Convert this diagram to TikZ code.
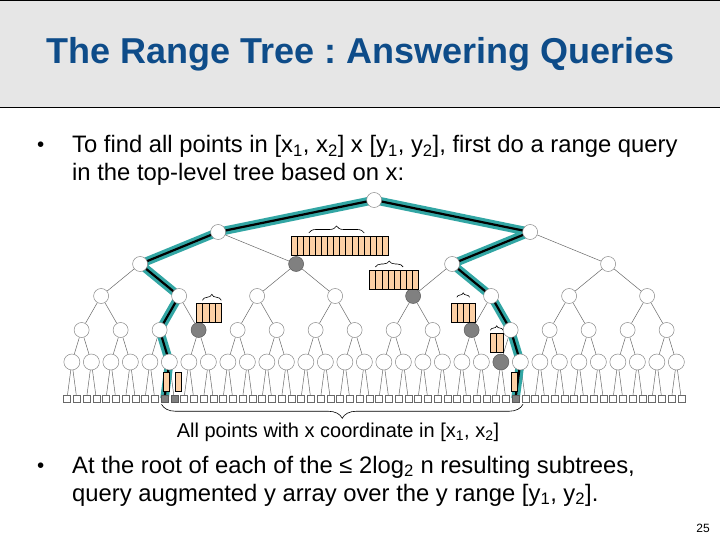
\documentclass[tikz,border=0pt]{standalone}
\usepackage{fontspec}
\setmainfont{Liberation Sans}
\usetikzlibrary{backgrounds,decorations.pathreplacing}
\definecolor{TitleBlue}{RGB}{14,76,137}
\definecolor{TitleGray}{RGB}{230,230,230}
\definecolor{ArrOrange}{RGB}{252,208,165}
\definecolor{NodeGray}{RGB}{128,128,128}
\definecolor{PathTeal}{RGB}{50,166,164}
\definecolor{EdgeGray}{RGB}{105,105,105}
\frenchspacing

% one augmented y array: name, left x, top y, number of cells
\newcommand{\yarray}[4]{%
  \foreach \c in {1,...,#4}
    \node[cell] (#1-\c) at ({#2+6.1*(\c-1)},#3) {};
}

\tikzset{
  sel-2-1/.style={hit}, sel-3-4/.style={hit}, sel-4-3/.style={hit},
  sel-4-10/.style={hit}, sel-5-22/.style={hit},
  sel-l-10/.style={hit}, sel-l-11/.style={hit}, sel-l-46/.style={hit},
}

\begin{document}
\begin{tikzpicture}[x=1pt,y=-1pt,
  titlebar/.style={draw=black,fill=TitleGray,line width=0.8pt,
                   minimum width=722pt,minimum height=107pt,inner sep=0pt,
                   font=\fontsize{36}{40}\selectfont\bfseries,text=TitleBlue},
  body/.style={font=\fontsize{23.8}{28}\selectfont,anchor=base west,inner sep=0pt},
  dot/.style={font=\fontsize{20.5}{24}\selectfont,anchor=base west,inner sep=0pt},
  tnode/.style={circle,draw=EdgeGray!80,fill=white,line width=0.5pt,
                inner sep=0pt},
  leaf/.style={rectangle,draw=EdgeGray,fill=white,line width=0.5pt,
               minimum size=7pt,inner sep=0pt},
  hit/.style={fill=NodeGray,draw=black!65},
  cell/.style={rectangle,draw=black,fill=ArrOrange,line width=0.6pt,
               anchor=north west,minimum width=6.1pt,minimum height=18.5pt,
               inner sep=0pt},
  tedge/.style={EdgeGray,line width=0.5pt},
  qpath/.style={black,line width=2.2pt,line join=round,
                preaction={draw,PathTeal,line width=8.5pt,line join=round}},
  ybrace/.style={decorate,decoration={brace,amplitude=6pt,raise=3pt},
                 line width=0.6pt},
]
\useasboundingbox (0,0) rectangle (720,540);
\begin{scope}[on background layer]
\fill[white] (0,0) rectangle (720,540);
\end{scope}

\node[titlebar] (title) at (360.5,54.3) {The Range Tree : Answering Queries};

\node[dot] (dot1) at (37,152) {•};
\node[body] (q1a) at (72,153) {To find all points in [x\textsubscript{1}, x\textsubscript{2}] x [y\textsubscript{1}, y\textsubscript{2}], first do a range query};
\node[body] (q1b) at (72,181) {in the top-level tree based on x:};

% tree nodes, level by level
\foreach \d/\y/\s in {0/200/15,1/232/15,2/264/15,3/296/15,4/330/15,5/362/16} {
  \pgfmathtruncatemacro{\last}{2^\d-1}
  \pgfmathtruncatemacro{\w}{2^(6-\d)}
  \foreach \k in {0,...,\last}
    \node[tnode,minimum size=\s pt,sel-\d-\k/.try] (n-\d-\k)
      at ({67+9.75*(\w*\k+(\w-1)/2)},\y) {};
}
\foreach \i in {0,...,63}
  \node[leaf,sel-l-\i/.try] (l-\i) at ({67+9.75*\i},398.5) {};

\begin{scope}[on background layer]
\foreach \d in {0,...,4} {
  \pgfmathtruncatemacro{\last}{2^\d-1}
  \pgfmathtruncatemacro{\nd}{\d+1}
  \foreach \k in {0,...,\last} {
    \pgfmathtruncatemacro{\lc}{2*\k}
    \pgfmathtruncatemacro{\rc}{2*\k+1}
    \draw[tedge] (n-\d-\k) -- (n-\nd-\lc) (n-\d-\k) -- (n-\nd-\rc);
  }
}
\foreach \j in {0,...,31} {
  \pgfmathtruncatemacro{\lc}{2*\j}
  \pgfmathtruncatemacro{\rc}{2*\j+1}
  \draw[tedge] (n-5-\j) -- (l-\lc) (n-5-\j) -- (l-\rc);
}
\draw[qpath] (n-0-0.center) -- (n-1-0.center) -- (n-2-0.center) -- (n-3-1.center)
  -- (n-4-2.center) -- (n-5-5.center) -- (l-10.center);
\draw[qpath] (n-0-0.center) -- (n-1-1.center) -- (n-2-2.center) -- (n-3-5.center)
  -- (n-4-11.center) -- (n-5-23.center) -- (l-46.center);
\end{scope}

\yarray{a16}{290.5}{236}{16}
\yarray{a8}{369.3}{270}{8}
\yarray{a4l}{196.3}{303.3}{4}
\yarray{a4r}{450.7}{303.3}{4}
\yarray{a2}{490.3}{333.3}{2}
\yarray{a1l}{162.7}{372}{1}
\yarray{a1m}{175}{372}{1}
\yarray{a1r}{510.7}{372}{1}

\draw[ybrace,decoration={amplitude=7pt}] (a16-4.north west) -- (a16-12.north east);
\draw[ybrace] (a8-2.north west) -- (a8-6.north);
\draw[ybrace] (a4l-2.north west) -- (a4l-4.north east);
\draw[ybrace,decoration={amplitude=4.5pt,raise=6pt}] (a4r-2.north west) -- (a4r-3.north east);
\draw[ybrace,decoration={amplitude=4.5pt}] (a2-1.north west) -- (a2-2.north east);

\draw[ybrace,decoration={amplitude=14pt,raise=2pt}] ([xshift=7.5pt]l-46.south) -- ([xshift=-3pt]l-10.south);
\node[font=\fontsize{20}{24}\selectfont] (allpts) at (338,432) {All points with x coordinate in [x\textsubscript{1}, x\textsubscript{2}]};

\node[dot] (dot2) at (37,472) {•};
\node[body] (q2a) at (72,473) {At the root of each of the ≤ 2log\textsubscript{2} n resulting subtrees,};
\node[body] (q2b) at (72,501) {query augmented y array over the y range [y\textsubscript{1}, y\textsubscript{2}].};

\node[font=\fontsize{12}{14}\selectfont] (pagenum) at (703,528) {25};
\end{tikzpicture}
\end{document}
